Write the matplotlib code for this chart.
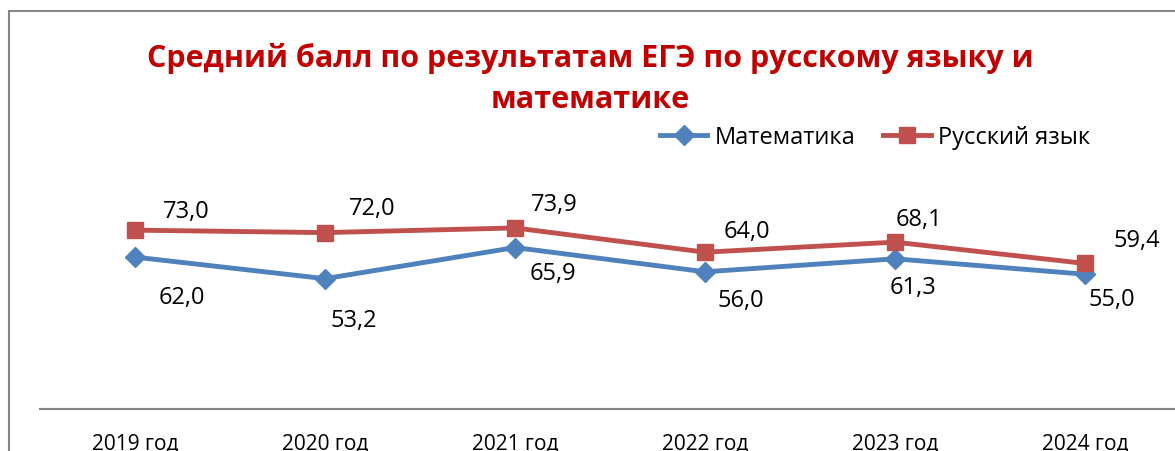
import matplotlib.pyplot as plt
from matplotlib.patches import Rectangle

years = ['2019 год', '2020 год', '2021 год', '2022 год', '2023 год', '2024 год']
math_scores = [62.0, 53.2, 65.9, 56.0, 61.3, 55.0]
rus_scores = [73.0, 72.0, 73.9, 64.0, 68.1, 59.4]

# label offsets in points (hand tuned to match the source)
math_offs = [(34, -29), (21, -30), (27, -18), (26, -20), (13, -20), (19, -18)]
rus_offs = [(37, 14), (34, 18), (28, 17), (30, 15), (17, 17), (37, 17)]

blue = '#4F81BD'
red = '#C0504D'
font = 'Open Sans'

fig = plt.figure(figsize=(11.75, 4.52), dpi=100)
W, H = 1175, 452

# outer chart frame (cropped in the source)
fig.patches.append(Rectangle((9 / W, -0.1), 1.2, 1.1 - 12 / H, transform=fig.transFigure,
                             fill=False, edgecolor='#868686', lw=1.5))

ax = fig.add_axes([40 / W, 42 / H, 1140 / W, 245 / H])
x = list(range(len(years)))
ax.plot(x, math_scores, color=blue, lw=3.5, marker='D', ms=10, label='Математика', clip_on=False)
ax.plot(x, rus_scores, color=red, lw=3.5, marker='s', ms=12, label='Русский язык', clip_on=False)

for xi, v, o in zip(x, math_scores, math_offs):
    ax.annotate(f'{v:.1f}'.replace('.', ','), (xi, v), xytext=o, textcoords='offset points',
                ha='center', va='center', fontsize=17, family=font)
for xi, v, o in zip(x, rus_scores, rus_offs):
    ax.annotate(f'{v:.1f}'.replace('.', ','), (xi, v), xytext=o, textcoords='offset points',
                ha='center', va='center', fontsize=17, family=font)

ax.set_xlim(-0.5, len(years) - 0.5)
ax.set_ylim(0, 100)
ax.set_xticks(x)
ax.set_xticklabels(years, fontsize=15, family=font)
ax.tick_params(axis='x', length=0, pad=17)
ax.set_yticks([])
for s in ['top', 'left', 'right']:
    ax.spines[s].set_visible(False)
ax.spines['bottom'].set_color('#868686')
ax.spines['bottom'].set_linewidth(1.5)

fig.text(590 / W, 1 - 58 / H, 'Средний балл по результатам ЕГЭ по русскому языку и',
         ha='center', va='center', fontsize=22, fontweight='bold', color='#C00000', family=font)
fig.text(590 / W, 1 - 100 / H, 'математике',
         ha='center', va='center', fontsize=22, fontweight='bold', color='#C00000', family=font)

fig.legend(loc='center', bbox_to_anchor=(875 / W, 1 - 138 / H), ncol=2, frameon=False,
           prop={'family': font, 'size': 17}, handlelength=2.0, handletextpad=0.3,
           columnspacing=1.2)

fig.savefig('out.png', dpi=100)
